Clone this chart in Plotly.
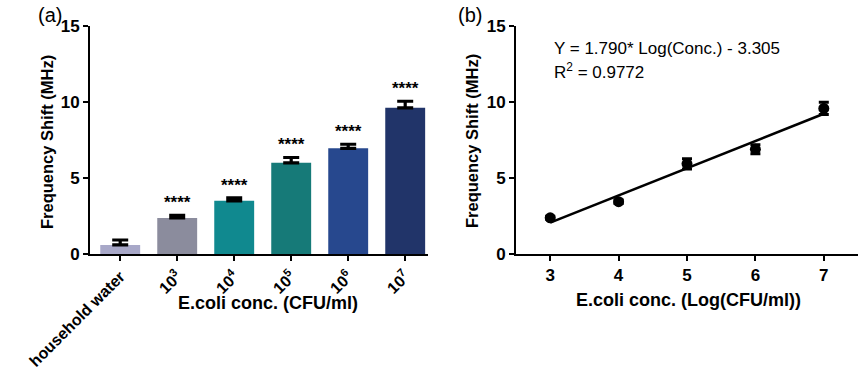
import plotly.graph_objects as go

# ---- data ----
categories = ["household water", "10<sup>3</sup>", "10<sup>4</sup>", "10<sup>5</sup>", "10<sup>6</sup>", "10<sup>7</sup>"]
bar_values = [0.6, 2.37, 3.5, 6.0, 6.95, 9.62]
bar_errors = [0.32, 0.18, 0.2, 0.35, 0.27, 0.43]
bar_colors = ["#a8a8c8", "#8b8c9d", "#10898f", "#167a78", "#27488e", "#213469"]
significance = ["", "****", "****", "****", "****", "****"]

log_conc = [3, 4, 5, 6, 7]
shift_mean = [2.38, 3.44, 5.93, 6.89, 9.58]
shift_err = [0.1, 0.12, 0.33, 0.3, 0.4]
fit_slope = 1.790
fit_intercept = -3.305
fit_r2 = 0.9772

y_ticks = [0, 5, 10, 15]

FONT = "Liberation Sans, Arial, sans-serif"
W, H = 865, 370

def px(x):
    return x / W

def py(y):
    return 1 - y / H

fig = go.Figure()

# ---- panel (a) bars ----
fig.add_trace(go.Bar(
    x=list(range(len(categories))), y=bar_values,
    marker=dict(color=bar_colors, line=dict(width=0)),
    width=0.70,
    error_y=dict(type="data", symmetric=False, array=bar_errors,
                 arrayminus=[0] * len(bar_errors), thickness=3.2, width=8, color="black"),
    xaxis="x", yaxis="y", showlegend=False,
))

# ---- panel (b) scatter + fit ----
fit_y = [fit_slope * x + fit_intercept for x in log_conc]
fig.add_trace(go.Scatter(
    x=log_conc, y=fit_y, mode="lines",
    line=dict(color="black", width=2.6),
    xaxis="x2", yaxis="y2", showlegend=False,
))
fig.add_trace(go.Scatter(
    x=log_conc, y=shift_mean, mode="markers",
    marker=dict(color="black", size=11),
    error_y=dict(type="data", array=shift_err, thickness=3, width=5, color="black"),
    xaxis="x2", yaxis="y2", showlegend=False,
))

def axis_common(size=17):
    return dict(
        showline=True, linecolor="black", linewidth=2,
        ticks="outside", ticklen=5, tickwidth=2, tickcolor="black",
        showgrid=False, zeroline=False, automargin=False,
        tickfont=dict(family=FONT, size=size, color="black", weight="bold"),
    )

ydom = [py(254), py(26)]

fig.update_layout(
    width=W, height=H,
    margin=dict(l=0, r=0, t=0, b=0),
    paper_bgcolor="white", plot_bgcolor="white",
    font=dict(family=FONT, color="black"),
    xaxis=dict(domain=[px(90), px(428)], range=[-0.53, 5.4],
               tickmode="array", tickvals=list(range(len(categories))), ticktext=categories,
               tickangle=-45, anchor="y", **axis_common(16)),
    yaxis=dict(domain=ydom, range=[0, 15], tickvals=y_ticks, anchor="x", **axis_common()),
    xaxis2=dict(domain=[px(516), px(858)], range=[2.5, 7.5], tickvals=log_conc,
                anchor="y2", **axis_common()),
    yaxis2=dict(domain=ydom, range=[0, 15], tickvals=y_ticks, anchor="x2", **axis_common()),
)

ann = []
# significance stars
for i, (v, e, s) in enumerate(zip(bar_values, bar_errors, significance)):
    if s:
        ann.append(dict(x=i, y=v + e, xref="x", yref="y", text=s, showarrow=False,
                        yanchor="bottom", yshift=1,
                        font=dict(family=FONT, size=17, color="black", weight="bold")))

ytitle_font = dict(family=FONT, size=16.5, color="black", weight="bold")
xtitle_font = dict(family=FONT, size=18, color="black", weight="bold")
ann += [
    dict(x=px(47), y=py(142), xref="paper", yref="paper", text="Frequency Shift (MHz)",
         textangle=-90, showarrow=False, font=ytitle_font, xanchor="center", yanchor="middle"),
    dict(x=px(472), y=py(141), xref="paper", yref="paper", text="Frequency Shift (MHz)",
         textangle=-90, showarrow=False, font=ytitle_font, xanchor="center", yanchor="middle"),
    dict(x=px(268), y=py(303), xref="paper", yref="paper", text="E.coli conc. (CFU/ml)",
         showarrow=False, font=xtitle_font, xanchor="center", yanchor="middle"),
    dict(x=px(688), y=py(300), xref="paper", yref="paper", text="E.coli conc. (Log(CFU/ml))",
         showarrow=False, font=xtitle_font, xanchor="center", yanchor="middle"),
    dict(x=px(50), y=py(15), xref="paper", yref="paper", text="(a)",
         showarrow=False, font=dict(family=FONT, size=20, color="black"),
         xanchor="center", yanchor="middle"),
    dict(x=px(470), y=py(15), xref="paper", yref="paper", text="(b)",
         showarrow=False, font=dict(family=FONT, size=20, color="black"),
         xanchor="center", yanchor="middle"),
    dict(x=px(552), y=py(48), xref="paper", yref="paper",
         text=f"Y = {fit_slope:.3f}* Log(Conc.) - {abs(fit_intercept):.3f}",
         showarrow=False, font=dict(family=FONT, size=17, color="black"),
         xanchor="left", yanchor="middle"),
    dict(x=px(552), y=py(71), xref="paper", yref="paper",
         text=f"R<sup>2</sup> = {fit_r2:.4f}",
         showarrow=False, font=dict(family=FONT, size=17, color="black"),
         xanchor="left", yanchor="middle"),
]
fig.update_layout(annotations=ann)

fig.write_html("out.html", config={"displayModeBar": False},
               post_script="document.body.style.margin='0px';document.body.style.padding='0px';")
